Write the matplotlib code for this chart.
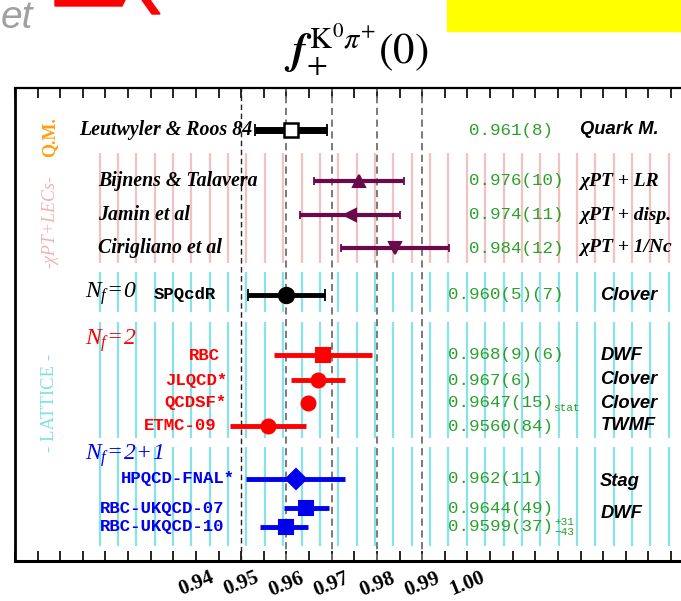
import matplotlib
matplotlib.use("Agg")
import matplotlib.pyplot as plt
from matplotlib.patches import Rectangle, Polygon
import numpy as np

# ---------------- data ----------------
qm_names = ["Leutwyler & Roos 84"]
qm_values = [0.961]
qm_errors = [0.008]
qm_labels = ["0.961(8)"]
qm_methods = ["Quark M."]

chpt_names = ["Bijnens & Talavera", "Jamin et al", "Cirigliano et al"]
chpt_values = [0.976, 0.974, 0.984]
chpt_errors = [0.010, 0.011, 0.012]
chpt_labels = ["0.976(10)", "0.974(11)", "0.984(12)"]
chpt_methods = ["χPT + LR", "χPT + disp.", "χPT + 1/Nc"]
chpt_markers = ["^", "<", "v"]

nf0_names = ["SPQcdR"]
nf0_values = [0.960]
nf0_stat = [0.005]
nf0_sys = [0.007]
nf0_labels = ["0.960(5)(7)"]
nf0_methods = ["Clover"]

nf2_names = ["RBC", "JLQCD*", "QCDSF*", "ETMC-09"]
nf2_values = [0.968, 0.967, 0.9647, 0.9560]
nf2_stat = [0.009, 0.006, 0.0015, 0.0084]
nf2_sys = [0.006, 0.0, 0.0, 0.0]
nf2_labels = ["0.968(9)(6)", "0.967(6)", "0.9647(15)", "0.9560(84)"]
nf2_methods = ["DWF", "Clover", "Clover", "TWMF"]
nf2_markers = ["s", "o", "o", "o"]

nf21_names = ["HPQCD-FNAL*", "RBC-UKQCD-07", "RBC-UKQCD-10"]
nf21_values = [0.962, 0.9644, 0.9599]
nf21_stat = [0.011, 0.0049, 0.0037]
nf21_sys_lo = [0.0, 0.0, 0.0043]
nf21_sys_hi = [0.0, 0.0, 0.0031]
nf21_labels = ["0.962(11)", "0.9644(49)", "0.9599(37)"]
nf21_markers = ["D", "s", "s"]

tick_labels = ["0.94", "0.95", "0.96", "0.97", "0.98", "0.99", "1.00"]

# ---------------- layout ----------------
plt.rcParams["mathtext.rm"] = "Liberation Serif:italic"
plt.rcParams["mathtext.it"] = "Liberation Serif:italic"
plt.rcParams["mathtext.bf"] = "Liberation Serif:italic:bold"

W, H = 681, 601
fig = plt.figure(figsize=(W / 100, H / 100), dpi=100)

ax_left_px, ax_right_px = 15, 739
ax_top_px, ax_bot_px = 88, 561
ax = fig.add_axes([ax_left_px / W, 1 - ax_bot_px / H,
                   (ax_right_px - ax_left_px) / W, (ax_bot_px - ax_top_px) / H])
XMIN, XMAX = 0.9003, 1.06
ax.set_xlim(XMIN, XMAX)
ax.set_ylim(ax_bot_px, ax_top_px)

def xd(px):
    """horizontal figure pixel -> data value"""
    return XMIN + (px - ax_left_px) / (ax_right_px - ax_left_px) * (XMAX - XMIN)

SERIF = "Liberation Serif"
MONO = "Liberation Mono"
SANS = "Liberation Sans"

PURPLE = "#6a0a4a"
GREEN = "#2aa02a"
RED = "#ff0000"
BLUE = "#0000ee"
PINK = "#f2c2c2"
CYAN = "#86e3ea"

# row positions (vertical, top-down)
y_qm = [130]
y_chpt = [181, 215, 248]
y_nf0 = [295]
y_nf2 = [355, 380, 403, 426]
y_nf21 = [479, 508, 527]

# background hatching lines
grid_x = xd(98.3) + np.arange(0, 40) * (xd(116.7) - xd(98.3))
grid_x = grid_x[grid_x < xd(690)]
for gx in grid_x:
    ax.plot([gx, gx], [153, 263], color=PINK, lw=1.6, zorder=1, solid_capstyle="butt")
    for y0, y1 in [(272, 312), (322, 438), (447, 546)]:
        ax.plot([gx, gx], [y0, y1], color=CYAN, lw=1.6, zorder=1, solid_capstyle="butt")

# reference dashed lines
for i, v in enumerate([0.95, 0.96, 0.97, 0.98, 0.99]):
    ax.axvline(v, color="#222222" if i == 0 else "#707070", lw=1.0 if i == 0 else 1.3,
               ls=(0, (4, 2.5)), zorder=2)

def bar(y, v, lo, hi, color, lw, cap, marker, ms, mfc=None, mew=1.5):
    ax.errorbar([v], [y], xerr=[[lo], [hi]], fmt="none", ecolor=color,
                elinewidth=lw, capsize=cap, capthick=1.3, zorder=3)
    ax.plot([v], [y], marker=marker, ms=ms, color=color,
            mfc=mfc if mfc else color, mec=color, mew=mew, zorder=4, ls="none")

# Q.M.
for y, v, e in zip(y_qm, qm_values, qm_errors):
    bar(y, v, e, e, "black", 5.0, 4, "s", 9.5, mfc="white", mew=1.8)
# chiPT
for y, v, e, m in zip(y_chpt, chpt_values, chpt_errors, chpt_markers):
    bar(y, v, e, e, PURPLE, 3.0, 3, m, 9)
# Nf=0
for y, v, s1, s2 in zip(y_nf0, nf0_values, nf0_stat, nf0_sys):
    e = np.hypot(s1, s2)
    bar(y, v, e, e, "black", 3.5, 4, "o", 11)
# Nf=2
for y, v, s1, s2, m in zip(y_nf2, nf2_values, nf2_stat, nf2_sys, nf2_markers):
    e = np.hypot(s1, s2)
    bar(y, v, e, e, RED, 3.5, 0, m, 10 if m == "o" else 9.5)
# Nf=2+1
for y, v, s1, lo, hi, m in zip(y_nf21, nf21_values, nf21_stat, nf21_sys_lo, nf21_sys_hi, nf21_markers):
    bar(y, v, np.hypot(s1, lo), np.hypot(s1, hi), BLUE, 3.5, 0, m, 10 if m == "D" else 9.5)

# ---------------- labels ----------------
ax.text(xd(251), y_qm[0], qm_names[0], ha="right", va="center", family=SERIF,
        style="italic", weight="bold", fontsize=14.3, zorder=5)
for y, n in zip(y_chpt, chpt_names):
    ax.text(xd(97), y, n, ha="left", va="center", family=SERIF, style="italic",
            weight="bold", fontsize=14.3, zorder=5)

ax.text(xd(468), y_qm[0], qm_labels[0], ha="left", va="center", family=MONO,
        color=GREEN, fontsize=12.6, zorder=5)
for y, t in zip(y_chpt, chpt_labels):
    ax.text(xd(468), y, t, ha="left", va="center", family=MONO, color=GREEN,
            fontsize=12.6, zorder=5)
ax.text(xd(580), y_qm[0], qm_methods[0], ha="left", va="center", family=SANS,
        style="italic", weight="bold", fontsize=13.2, zorder=5)
for y, t in zip(y_chpt, chpt_methods):
    ax.text(xd(580), y, t, ha="left", va="center", family=SERIF, style="italic",
            weight="bold", fontsize=14, zorder=5)

nf_kw = dict(ha="left", va="center", fontsize=17, zorder=5, math_fontfamily="custom")
ax.text(xd(84), 294, r"$N_{f}\!=\!0$", color="black", **nf_kw)
ax.text(xd(84), 341, r"$N_{f}\!=\!2$", color=RED, **nf_kw)
ax.text(xd(84), 456, r"$N_{f}\!=\!2\!+\!1$", color=BLUE, **nf_kw)

name_kw = dict(ha="right", va="center", family=MONO, weight="bold", fontsize=12.5, zorder=5)
ax.text(xd(153), y_nf0[0], nf0_names[0], color="black",
        **{**name_kw, "ha": "left"})
for y, n, xr in zip(y_nf2, nf2_names, [219, 226, 226, 216]):
    ax.text(xd(xr), y, n, color=RED, **name_kw)
for y, n, xr in zip(y_nf21, nf21_names, [234, 223, 223]):
    ax.text(xd(xr), y, n, color=BLUE, **name_kw)

val_kw = dict(ha="left", va="center", family=MONO, color=GREEN, fontsize=12.6, zorder=5)
for y, t in zip(y_nf0 + y_nf2 + y_nf21, nf0_labels + nf2_labels + nf21_labels):
    ax.text(xd(447), y, t, **val_kw)
# subscripts / asymmetric errors
small_kw = dict(ha="left", va="center", family=MONO, color=GREEN, fontsize=8, zorder=5)
ax.text(xd(553), y_nf2[2] + 5, "stat", **small_kw)
ax.text(xd(554), y_nf21[2] - 5, "+31", **small_kw)
ax.text(xd(554), y_nf21[2] + 5, "−43", **small_kw)

meth_kw = dict(ha="left", va="center", family=SANS, style="italic", weight="bold",
               fontsize=13.2, zorder=5)
ax.text(xd(600), y_nf0[0], nf0_methods[0], **meth_kw)
for y, t in zip(y_nf2, nf2_methods):
    ax.text(xd(600), y, t, **meth_kw)
ax.text(xd(600), 481, "Stag", **meth_kw)
ax.text(xd(600), 514, "DWF", **meth_kw)

# group labels on the left
ax.text(xd(48), 137, "Q.M.", rotation=90, ha="center", va="center", family=SERIF,
        weight="bold", color="#ffa010", fontsize=13, zorder=5)
ax.text(xd(49), 221, "-χPT+LECs-", rotation=90, ha="center", va="center", family=SERIF,
        style="italic", color="#f0b4b4", fontsize=13, zorder=5)
ax.text(xd(48), 403, "- LATTICE -", rotation=90, ha="center", va="center", family=SERIF,
        color="#80e0e8", fontsize=13.5, zorder=5)

# ---------------- axes styling ----------------
ax.set_yticks([])
ax.set_xticks(np.round(np.arange(0.90, 1.061, 0.01), 2))
ax.set_xticks(np.round(np.arange(0.905, 1.061, 0.01), 3), minor=True)
ax.set_xticklabels([f"{t:.2f}" if f"{t:.2f}" in tick_labels else "" for t in ax.get_xticks()])
ax.tick_params(axis="x", which="both", direction="in", top=True, bottom=True,
               length=7, width=1.2, pad=5)
for lab in ax.get_xticklabels():
    lab.set_rotation(22)
    lab.set_family(SERIF)
    lab.set_weight("bold")
    lab.set_fontsize(15)
ax.spines["left"].set_linewidth(2.0)
ax.spines["bottom"].set_linewidth(2.2)
ax.spines["top"].set_linewidth(1.6)
ax.spines["right"].set_visible(False)

# title
fig.text(356 / W, 1 - 50 / H, r"$\mathbfit{f}_{+}^{\,\mathrm{K}^{0}\pi^{+}}\mathrm{(0)}$",
         ha="center", va="center", fontsize=31, math_fontfamily="stix")

# slide header fragments
fig.patches.append(Rectangle((447 / W, 1 - 31 / H), (W - 447) / W, 31 / H,
                             transform=fig.transFigure, color="#ffff00", zorder=0))
fig.patches.append(Polygon([(55 / W, 1), (125 / W, 1), (122 / W, 1 - 6 / H), (55 / W, 1 - 6 / H)],
                           closed=True, transform=fig.transFigure, color="#ff0000"))
fig.patches.append(Polygon([(142 / W, 1), (150 / W, 1), (160 / W, 1 - 14 / H), (152 / W, 1 - 14 / H)],
                           closed=True, transform=fig.transFigure, color="#ff0000"))
fig.text(1 / W, 1 - 18 / H, "et", ha="left", va="center", family=SANS, style="italic",
         color="#a0a0a0", fontsize=28)

fig.savefig("out.png", dpi=100)
